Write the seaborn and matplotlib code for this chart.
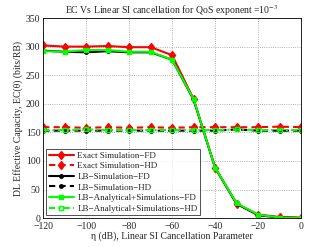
import numpy as np
import pandas as pd
import matplotlib
matplotlib.use("Agg")
import matplotlib.pyplot as plt
import seaborn as sns

eta_db = [-120, -110, -100, -90, -80, -70, -60, -50, -40, -30, -20, -10, 0]
exact_fd = [302, 300, 300, 301, 299, 299, 285, 208, 88, 25, 6, 2, 1]
exact_hd = [159, 159, 158, 159, 158, 159, 158, 159, 159, 159, 159, 160, 159]
lb_sim_fd = [293, 291, 290, 292, 290, 290, 277, 207, 88, 25, 5, 1, 0]
lb_sim_hd = [153, 153, 153, 153, 153, 153, 153, 153, 153, 155, 153, 153, 153]
lb_ana_fd = [292, 291, 294, 294, 291, 291, 277, 208, 88, 26, 6, 1, 0]
lb_ana_hd = [154, 154, 155, 154, 154, 154, 154, 154, 154, 155, 154, 154, 154]

sns.set_style("white")
plt.rcParams['font.family'] = ['Liberation Serif', 'DejaVu Serif']
plt.rcParams['mathtext.fontset'] = 'stix'

fig = plt.figure(figsize=(3.32, 2.47), dpi=100)
ax = fig.add_axes([0.13, 0.117, 0.777, 0.81])

series = [
    ("Exact Simulation\u2212FD", exact_fd, 'red', '-', 'd', 'red', 4.5),
    ("Exact Simulation\u2212HD", exact_hd, 'red', (0, (3, 2)), 'd', 'red', 4.5),
    ("LB\u2212Simulation\u2212FD", lb_sim_fd, 'black', '-', 'o', 'black', 2.5),
    ("LB\u2212Simulation\u2212HD", lb_sim_hd, 'black', (0, (3, 2)), 'o', 'black', 2.5),
    ("LB\u2212Analytical+Simulations\u2212FD", lb_ana_fd, '#00ff00', '-', 's', '#00ff00', 3.5),
    ("LB\u2212Analytical+Simulations\u2212HD", lb_ana_hd, '#00ff00', (0, (3, 1.5, 1, 1.5)), 's', 'none', 3.5),
]

for name, vals, col, ls, mk, mfc, ms in series:
    df = pd.DataFrame({'eta': eta_db, 'ec': vals})
    sns.lineplot(data=df, x='eta', y='ec', ax=ax, color=col, linestyle=ls,
                 marker=mk, markersize=ms, markerfacecolor=mfc,
                 markeredgecolor=col, markeredgewidth=1, linewidth=1.5,
                 label=name)

ax.set_xlim(-120, 0)
ax.set_ylim(0, 350)
ax.set_xticks(np.arange(-120, 1, 20))
ax.set_yticks(np.arange(0, 351, 50))
ax.set_xticklabels([str(t).replace('-', '\u2212') for t in range(-120, 1, 20)])
ax.tick_params(labelsize=7, direction='in', length=2, width=0.5, pad=2)
ax.tick_params(axis='x', pad=3)
ax.grid(True, linestyle=':', linewidth=0.6, color='#999999')
for s in ax.spines.values():
    s.set_linewidth(0.6)
    s.set_color('black')

ax.set_title("EC Vs Linear SI cancellation for QoS exponent =10$^{-3}$",
             fontsize=7, pad=3)
ax.set_xlabel("\u03b7 (dB), Linear SI Cancellation Parameter", fontsize=7, labelpad=0)
ax.set_ylabel("DL Effective Capacity, EC(\u03b8) (bits/RB)", fontsize=7, labelpad=2)

leg = ax.legend(loc='lower left', fontsize=6.5, frameon=True, fancybox=False,
                edgecolor='black', borderpad=0.3, labelspacing=0.25,
                handlelength=2.8, handletextpad=0.4, borderaxespad=0.3)
leg.get_frame().set_linewidth(0.6)

fig.savefig("out.png", dpi=100)
